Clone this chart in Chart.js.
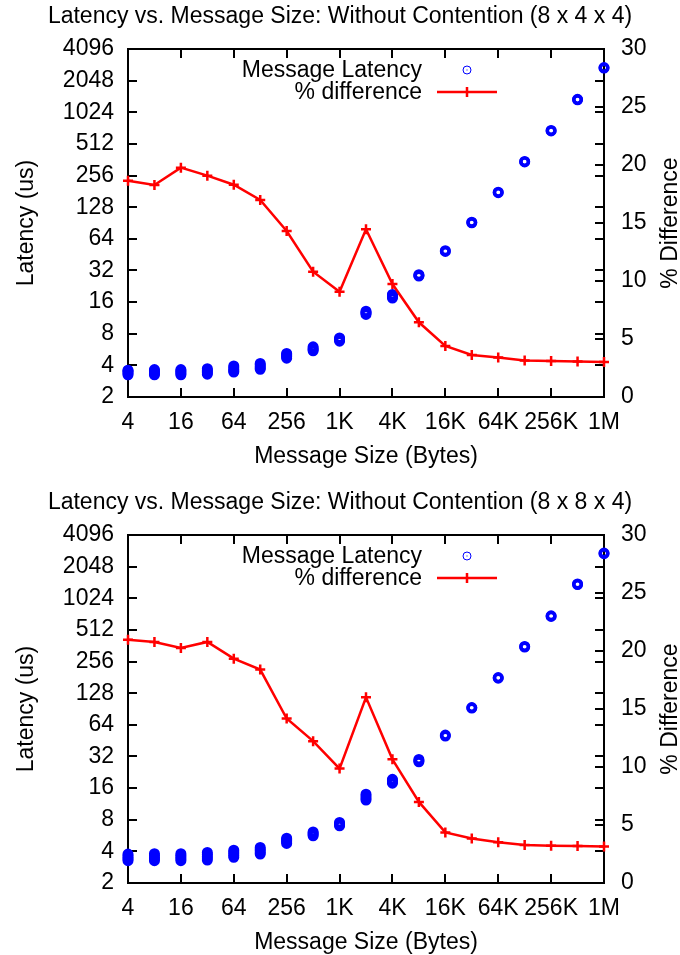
<!DOCTYPE html>
<html>
<head>
<meta charset="utf-8">
<script src="https://cdn.jsdelivr.net/npm/chart.js@4/dist/chart.umd.min.js"></script>
<style>
  html, body { margin: 0; padding: 0; background: #fff; overflow: hidden; }
  .panel { width: 680px; height: 486px; }
  canvas { display: block; }
</style>
</head>
<body>
<div class="panel"><canvas id="chart844" width="680" height="486"></canvas></div>
<div class="panel"><canvas id="chart884" width="680" height="486"></canvas></div>
<script>
// Message sizes in bytes (powers of two, 4 B .. 1 MB)
const messageSizes = [4, 8, 16, 32, 64, 128, 256, 512, 1024, 2048, 4096, 8192,
  16384, 32768, 65536, 131072, 262144, 524288, 1048576];

// Axis ticks
const xTickValues = [4, 16, 64, 256, 1024, 4096, 16384, 65536, 262144, 1048576];
const xTickLabels = ['4', '16', '64', '256', '1K', '4K', '16K', '64K', '256K', '1M'];
const yTickValues = [2, 4, 8, 16, 32, 64, 128, 256, 512, 1024, 2048, 4096];
const y2TickValues = [0, 5, 10, 15, 20, 25, 30];

// Repeated latency samples (us) for each message size, 8 x 4 x 4 partition
const latency844 = [
  [3.25, 3.35, 3.45, 3.55, 3.6],
  [3.25, 3.35, 3.45, 3.55, 3.65],
  [3.25, 3.35, 3.45, 3.55, 3.65],
  [3.3, 3.4, 3.5, 3.6, 3.72],
  [3.45, 3.55, 3.65, 3.8, 3.95],
  [3.67, 3.78, 3.9, 4.05, 4.17],
  [4.68, 4.82, 4.95, 5.08, 5.2],
  [5.5, 5.65, 5.8, 6.0],
  [6.8, 7.0, 7.15, 7.3],
  [12.2, 12.5, 12.8, 13.1],
  [17.5, 18.0, 18.5, 18.9],
  [28.3, 28.7, 29.2],
  [48.5, 49.3],
  [91, 92],
  [176, 178],
  [345, 349],
  [680, 688],
  [1345, 1360],
  [2700, 2730]
];
// % difference between fastest and slowest sample, 8 x 4 x 4
const pctDiff844 = [18.65, 18.28, 19.77, 19.08, 18.3, 16.98, 14.31, 10.8, 9.08,
  14.46, 9.74, 6.44, 4.4, 3.62, 3.4, 3.15, 3.1, 3.06, 3.02];

// Repeated latency samples (us) for each message size, 8 x 8 x 4 partition
const latency884 = [
  [3.26, 3.38, 3.5, 3.63, 3.77],
  [3.26, 3.38, 3.5, 3.65, 3.8],
  [3.26, 3.38, 3.52, 3.65, 3.8],
  [3.31, 3.45, 3.6, 3.75, 3.91],
  [3.51, 3.65, 3.8, 3.95, 4.11],
  [3.77, 3.9, 4.05, 4.2, 4.36],
  [4.76, 4.9, 5.05, 5.2, 5.34],
  [5.62, 5.8, 5.95, 6.13],
  [7.0, 7.15, 7.35, 7.53],
  [12.3, 12.8, 13.4, 14.0],
  [17.8, 18.3, 18.9, 19.4],
  [28.5, 29.2, 30.0],
  [50.0, 51.1],
  [92.3, 93.5],
  [178, 180],
  [352, 356],
  [688, 698],
  [1385, 1400],
  [2720, 2760]
];
// % difference, 8 x 8 x 4
const pctDiff884 = [20.97, 20.78, 20.26, 20.78, 19.34, 18.4, 14.18, 12.23, 9.86,
  16.01, 10.66, 6.99, 4.36, 3.84, 3.52, 3.27, 3.22, 3.18, 3.14];

const titles = {
  chart844: 'Latency vs. Message Size: Without Contention (8 x 4 x 4)',
  chart884: 'Latency vs. Message Size: Without Contention (8 x 8 x 4)'
};
const xTitle = 'Message Size (Bytes)';
const yTitle = 'Latency (us)';
const y2Title = '% Difference';
const latencyLabel = 'Message Latency';
const pctLabel = '% difference';

const FONT = "'Liberation Sans', Arial, sans-serif";
const FSIZE = 23;
const BLUE = '#0000ff';
const RED = '#ff0000';

Chart.defaults.font.family = FONT;
Chart.defaults.font.size = FSIZE;
Chart.defaults.color = '#000';

// Box, inward tick marks (mirrored x and y ticks), y2 title and key
const gnuplotFrame = {
  id: 'gnuplotFrame',
  beforeDatasetsDraw(chart) {
    const { ctx, chartArea: a, scales } = chart;
    const L = 9;
    ctx.save();
    ctx.strokeStyle = '#000';
    ctx.lineWidth = 2;
    ctx.strokeRect(a.left, a.top, a.right - a.left, a.bottom - a.top);
    ctx.beginPath();
    scales.x.ticks.forEach(t => {
      const px = Math.round(scales.x.getPixelForValue(t.value));
      if (px <= a.left + 1 || px >= a.right - 1) return;
      ctx.moveTo(px, a.bottom); ctx.lineTo(px, a.bottom - L);
      ctx.moveTo(px, a.top); ctx.lineTo(px, a.top + L);
    });
    scales.y.ticks.forEach(t => {
      const py = Math.round(scales.y.getPixelForValue(t.value));
      if (py <= a.top + 1 || py >= a.bottom - 1) return;
      ctx.moveTo(a.left, py); ctx.lineTo(a.left + L, py);
      ctx.moveTo(a.right, py); ctx.lineTo(a.right - L, py);
    });
    scales.y2.ticks.forEach(t => {
      const py = Math.round(scales.y2.getPixelForValue(t.value));
      if (py <= a.top + 1 || py >= a.bottom - 1) return;
      ctx.moveTo(a.right, py); ctx.lineTo(a.right - L, py);
    });
    ctx.stroke();
    ctx.restore();
  },
  afterDraw(chart) {
    const { ctx, chartArea: a } = chart;
    ctx.save();
    ctx.fillStyle = '#000';
    ctx.font = FSIZE + 'px ' + FONT;
    // right axis title, reading bottom to top
    ctx.translate(chart.width - 9, (a.top + a.bottom) / 2);
    ctx.rotate(-Math.PI / 2);
    ctx.textAlign = 'center';
    ctx.textBaseline = 'middle';
    ctx.fillText(y2Title, 0, 0);
    ctx.restore();

    // key in the upper right corner
    const ds = chart.data.datasets;
    const textRight = a.right - 182;
    const sx = a.right - 137;
    const row1 = a.top + 21;
    const row2 = a.top + 43;
    ctx.save();
    ctx.font = FSIZE + 'px ' + FONT;
    ctx.fillStyle = '#000';
    ctx.textAlign = 'right';
    ctx.textBaseline = 'middle';
    const lat = ds.find(d => d.key === 'latency');
    const pct = ds.find(d => d.key === 'pct');
    ctx.fillText(lat.label, textRight, row1 + 1);
    ctx.fillText(pct.label, textRight, row2 + 1);
    ctx.strokeStyle = BLUE;
    ctx.lineWidth = 1;
    ctx.beginPath();
    ctx.arc(sx, row1, 4, 0, Math.PI * 2);
    ctx.stroke();
    ctx.fillStyle = BLUE;
    ctx.fillRect(sx - 0.5, row1 - 0.5, 1, 1);
    ctx.strokeStyle = RED;
    ctx.lineWidth = 2.5;
    ctx.beginPath();
    ctx.moveTo(sx - 30, row2); ctx.lineTo(sx + 30, row2);
    ctx.moveTo(sx, row2 - 5); ctx.lineTo(sx, row2 + 5);
    ctx.stroke();
    ctx.restore();
  }
};

function buildChart(id, latency, pctDiff) {
  const points = [];
  messageSizes.forEach((size, i) => {
    latency[i].forEach(v => points.push({ x: size, y: v }));
  });
  const pctPoints = messageSizes.map((size, i) => ({ x: size, y: pctDiff[i] }));

  return new Chart(document.getElementById(id), {
    type: 'scatter',
    data: {
      datasets: [
        {
          key: 'pct',
          type: 'line',
          label: pctLabel,
          data: pctPoints,
          yAxisID: 'y2',
          borderColor: RED,
          backgroundColor: RED,
          borderWidth: 2.5,
          pointStyle: 'cross',
          pointRadius: 5,
          pointBorderWidth: 2.5,
          pointBorderColor: RED,
          tension: 0,
          clip: false,
          order: 0
        },
        {
          key: 'latency',
          label: latencyLabel,
          data: points,
          yAxisID: 'y',
          showLine: false,
          pointStyle: 'circle',
          pointRadius: 3.8,
          pointBorderWidth: 3.4,
          pointBorderColor: BLUE,
          pointBackgroundColor: 'rgba(0,0,0,0)',
          clip: false,
          order: 1
        }
      ]
    },
    options: {
      responsive: false,
      animation: false,
      events: [],
      layout: { padding: { top: 0, bottom: 0, left: 0, right: 0 } },
      plugins: {
        legend: { display: false },
        tooltip: { enabled: false },
        title: {
          display: true,
          text: titles[id],
          color: '#000',
          font: { size: FSIZE, weight: 'normal', family: FONT },
          padding: { top: 3.2, bottom: 18.2 }
        }
      },
      scales: {
        x: {
          type: 'logarithmic',
          min: 4,
          max: 1048576,
          afterBuildTicks: s => { s.ticks = xTickValues.map(v => ({ value: v })); },
          afterFit: s => { s.height = 89; },
          grid: { display: false, drawTicks: false },
          border: { display: false },
          ticks: {
            autoSkip: false,
            maxRotation: 0,
            padding: 12,
            color: '#000',
            callback: v => xTickLabels[xTickValues.indexOf(v)]
          },
          title: {
            display: true,
            text: xTitle,
            color: '#000',
            font: { size: FSIZE, family: FONT },
            padding: { top: 0, bottom: 16 }
          }
        },
        y: {
          type: 'logarithmic',
          position: 'left',
          min: 2,
          max: 4096,
          afterBuildTicks: s => { s.ticks = yTickValues.map(v => ({ value: v })); },
          afterFit: s => { s.width = 128; },
          grid: { display: false, drawTicks: false },
          border: { display: false },
          ticks: {
            autoSkip: false,
            padding: 14,
            color: '#000',
            callback: v => String(v)
          },
          title: {
            display: true,
            text: yTitle,
            color: '#000',
            font: { size: FSIZE, family: FONT },
            padding: { top: 13, bottom: 0 }
          }
        },
        y2: {
          type: 'linear',
          position: 'right',
          min: 0,
          max: 30,
          afterBuildTicks: s => { s.ticks = y2TickValues.map(v => ({ value: v })); },
          afterFit: s => { s.width = 76; },
          grid: { display: false, drawTicks: false },
          border: { display: false },
          ticks: {
            autoSkip: false,
            padding: 17,
            color: '#000',
            callback: v => String(v)
          },
          title: { display: false }
        }
      }
    },
    plugins: [gnuplotFrame]
  });
}

buildChart('chart844', latency844, pctDiff844);
buildChart('chart884', latency884, pctDiff884);
</script>
</body>
</html>
